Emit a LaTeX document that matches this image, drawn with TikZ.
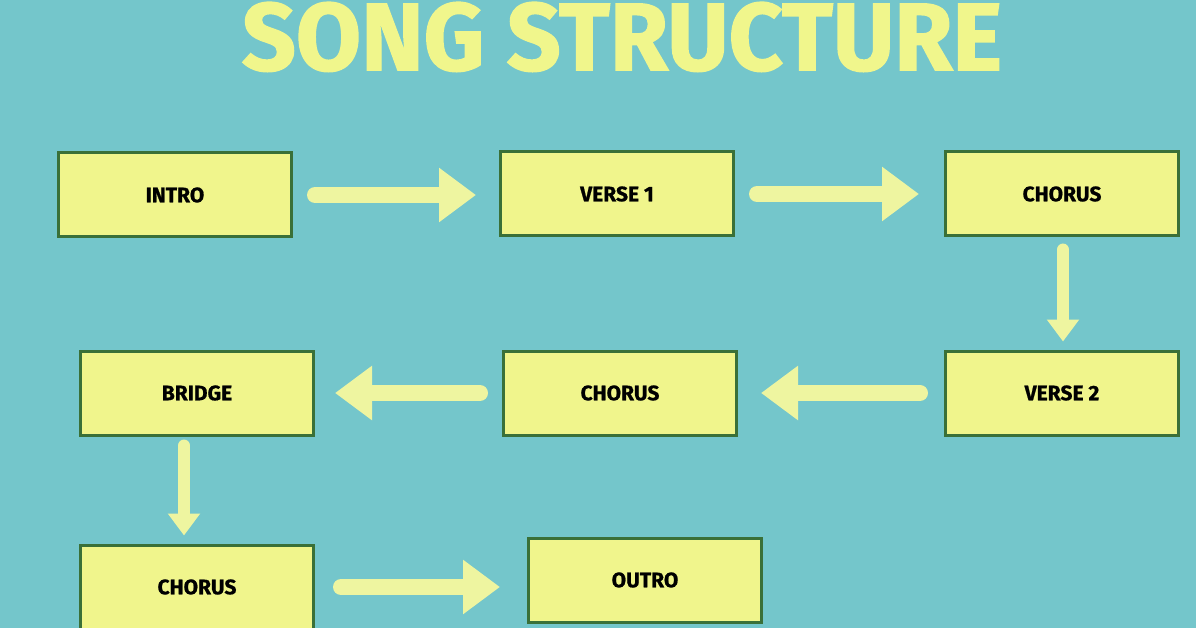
\documentclass[tikz,border=0pt]{standalone}
\usepackage{fontspec}
\usepackage{graphicx}
\setmainfont{Fira Sans}
\newfontfamily\titlefont[BoldFeatures={FakeBold=1.5}]{Fira Sans}
\newfontfamily\labelfont[BoldFeatures={FakeBold=0.8}]{Fira Sans}
\usetikzlibrary{arrows.meta}
\definecolor{bgteal}{RGB}{116,198,203}
\definecolor{boxfill}{RGB}{240,245,140}
\definecolor{boxline}{RGB}{58,112,56}
\definecolor{arrowyel}{RGB}{238,245,160}
\definecolor{titleyel}{RGB}{240,246,140}
\tikzset{
  x=1pt, y=-1pt,
  partbox/.style={draw=boxline, line width=3pt, fill=boxfill, minimum width=233pt, minimum height=84pt, inner sep=0pt,
    font=\labelfont\fontsize{21}{24}\selectfont\bfseries, text=black},
  bigarrow/.style={draw=arrowyel, line width=16pt, line cap=round,
    -{Triangle[width=52pt,length=37pt,fill=arrowyel]}},
  smallarrow/.style={draw=arrowyel, line width=12pt, line cap=round,
    -{Triangle[width=31pt,length=22pt,fill=arrowyel]}}
}
\begin{document}
\begin{tikzpicture}
\fill[bgteal] (0,0) rectangle (1196,628);
\useasboundingbox (0,0) rectangle (1196,628);
\node[anchor=south, inner sep=0pt, text=titleyel] (title) at (622,72)
  {\resizebox{760pt}{68pt}{\titlefont\bfseries SONG STRUCTURE}};
\node[partbox] (intro)   at (175,195) {INTRO};
\node[partbox] (verse1)  at (617,194) {VERSE 1};
\node[partbox] (chorusA) at (1062,194) {CHORUS};
\node[partbox] (verse2)  at (1062,393) {VERSE 2};
\node[partbox] (chorusB) at (620,393) {CHORUS};
\node[partbox] (bridge)  at (197,393) {BRIDGE};
\node[partbox] (chorusC) at (197,587) {CHORUS};
\node[partbox] (outro)   at (645,580) {OUTRO};
\draw[bigarrow, shorten <=22pt, shorten >=23pt] (intro.east) -- (intro.east -| verse1.west);
\draw[bigarrow, shorten <=22pt, shorten >=25pt] (verse1.east) -- (verse1.east -| chorusA.west);
\draw[smallarrow, shorten <=12pt, shorten >=8pt] ([xshift=1pt]chorusA.south) -- ([xshift=1pt]chorusA.south |- verse2.north);
\draw[bigarrow, shorten <=24pt, shorten >=23pt] (verse2.west) -- (verse2.west -| chorusB.east);
\draw[bigarrow, shorten <=22pt, shorten >=20pt] (chorusB.west) -- (chorusB.west -| bridge.east);
\draw[smallarrow, shorten <=9pt, shorten >=8pt] ([xshift=-13pt]bridge.south) -- ([xshift=-13pt]bridge.south |- chorusC.north);
\draw[bigarrow, shorten <=26pt, shorten >=27pt] (chorusC.east) -- (chorusC.east -| outro.west);
\end{tikzpicture}
\end{document}
